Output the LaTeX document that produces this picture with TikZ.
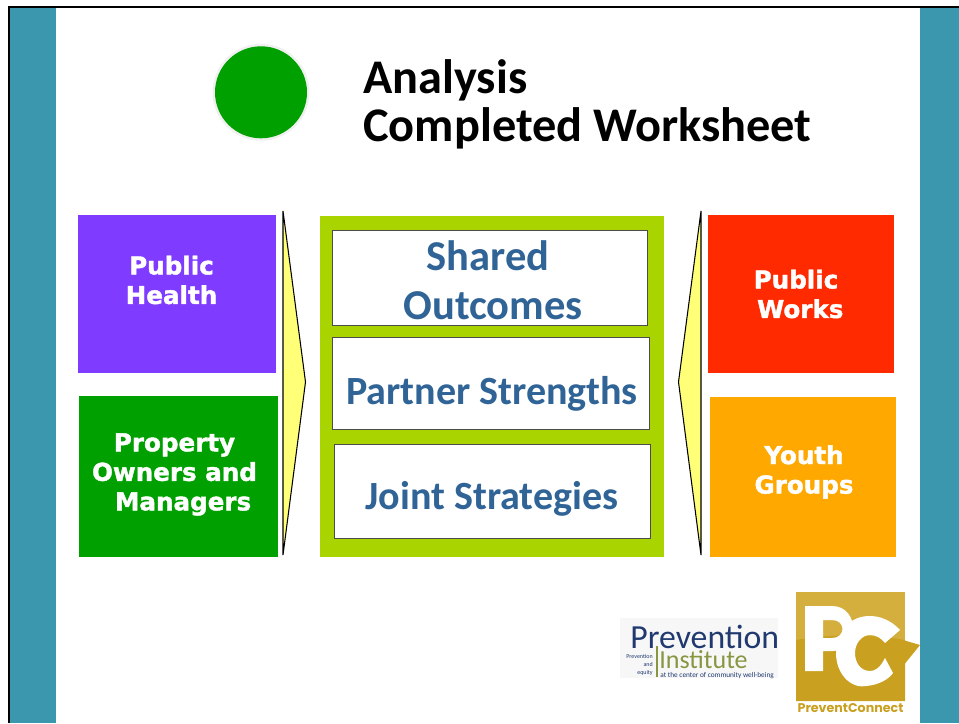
\documentclass[tikz,border=0pt]{standalone}
\usepackage{fontspec}
\setmainfont{Carlito}
\newfontfamily\heavyfont[BoldFont={DejaVu Sans Bold},BoldFeatures={FakeBold=1.6}]{DejaVu Sans}
\newfontfamily\logofont{Poppins}
\usetikzlibrary{calc}
\definecolor{myteal}{RGB}{59, 151, 173}
\definecolor{mypurple}{RGB}{127, 59, 255}
\definecolor{mygreen}{RGB}{0, 160, 0}
\definecolor{myred}{RGB}{255, 42, 0}
\definecolor{myorange}{RGB}{255, 168, 0}
\definecolor{mylime}{RGB}{170, 212, 0}
\definecolor{myblue}{RGB}{48, 100, 150}
\definecolor{myyellow}{RGB}{255, 255, 120}
\definecolor{mygold}{RGB}{201, 160, 32}
\definecolor{mygoldb}{RGB}{213, 175, 62}
\definecolor{mynavy}{RGB}{32, 58, 112}
\definecolor{myolive}{RGB}{136, 150, 66}

\begin{document}
\begin{tikzpicture}[x=0.02cm,y=-0.02cm]

\tikzstyle{partner} = [text=white, inner sep=0, outer sep=0, align=center,
font=\heavyfont\bfseries\fontsize{14}{16.8}\selectfont]
\tikzstyle{white-b} = [draw=black!70, line width=0.45, fill=white, inner sep=0]
\tikzstyle{middle-t} = [text=myblue, inner sep=0, font=\bfseries\fontsize{22.8}{28.5}\selectfont]
\tikzstyle{middle-big} = [text=myblue, inner sep=0, font=\bfseries\fontsize{24.2}{28.5}\selectfont]
\tikzstyle{chevron} = [draw=black, line width=0.6, fill=myyellow]

\useasboundingbox (0,0) rectangle (959,723);

% frame and side bands
\fill[myteal] (9,7) rectangle (56,723);
\fill[myteal] (920,7) rectangle (959,723);
\draw[line width=1.2, black] (9,723) -- (9,7) -- (959,7);

% title
\fill[black!6!white] (261,92.3) circle (48.5);
\fill[mygreen] (261,92.3) circle (46);
\node[anchor=north west, inner sep=0] (title) at (363,59) {\fontsize{27.5}{27.3}\selectfont\bfseries\begin{tabular}{@{}l@{}} Analysis\\ Completed Worksheet\end{tabular}};

% partner blocks
\fill[mypurple] (78,215) rectangle (276,373);
\fill[mygreen] (79,396) rectangle (278,557);
\fill[myred] (708,215) rectangle (894,373);
\fill[myorange] (710,397) rectangle (896,557);
\node[partner] (health) at (171.5,280) {Public\\Health};
\node[partner] (owners) at (174.5,474.5) {Property\\Owners and\\~~Managers};
\node[partner] (works) at (796,294) {Public\\~Works};
\node[partner] (youth) at (804,472) {Youth\\Groups};

% chevrons
\draw[chevron] (283,211) -- (305.5,382) -- (283,555) -- cycle;
\draw[chevron] (701,211) -- (678.5,382) -- (701,555) -- cycle;

% middle panel
\fill[mylime] (320,216) rectangle (664,557);
\draw[white-b] (332,230) rectangle (647,325);
\draw[white-b] (332,337) rectangle (649,429);
\draw[white-b] (334,444) rectangle (650,538);
\node[middle-big] (shared) at (488,256) {Shared};
\node[middle-big] (outcomes) at (493,306) {Outcomes};
\node[middle-t] (strengths) at (492,394) {Partner Strengths};
\node[middle-t] (joint) at (492,498.5) {Joint Strategies};

% first logo
\fill[black!3!white] (620,618) rectangle (778,678);
\node[anchor=base west, inner sep=0, text=mynavy] (prevention) at (630,648) {\fontsize{19.2}{20}\selectfont Prevention};
\node[anchor=base west, inner sep=0, text=myolive] (institute) at (659,668) {\fontsize{14.8}{15}\selectfont Institute};
\draw[myolive, line width=0.6] (657,646) -- (657,677);
\node[anchor=north east, inner sep=0, text=mynavy] (prevtiny) at (653,652) {\fontsize{3.4}{4.7}\selectfont\begin{tabular}{@{}r@{}} Prevention\\ and\\ equity\end{tabular}};
\node[anchor=base west, inner sep=0, text=mynavy] (wellbeing) at (660,677) {\fontsize{4.15}{4}\selectfont at the center of community well-being};

% second logo
\fill[mygoldb] (796,592) rectangle (905,640);
\fill[mygold] (796,701) -- (796,640) .. controls (830,634) and (870,634) .. (905,640) -- (905,701) -- cycle;
\fill[mygold] (903,640) -- (920,645) -- (903,666) -- cycle;
\fill[white, even odd rule] (805,606) -- (832,606) .. controls (860,606) and (860,651) .. (833,651) -- (823,651) -- (823,671) -- (805,671) -- cycle
  (823,620) -- (832,620) .. controls (846,620) and (846,638) .. (832,638) -- (823,638) -- cycle;
\fill[white] (900,630) .. controls (882,610) and (852,612) .. (842,632) .. controls (826,660) and (845,690) .. (866,686) .. controls (878,685) and (888,680) .. (893,673) -- (885,658) .. controls (880,668) and (875,671) .. (870,671) .. controls (860,671) and (855,662) .. (855,653) .. controls (855,643) and (862,635) .. (870,635) .. controls (876,635) and (881,638) .. (885,643) -- cycle;
\node[anchor=base, inner sep=0, text=mygold] (connect) at (850.5,712) {\logofont\bfseries\fontsize{7.2}{8}\selectfont PreventConnect};

\end{tikzpicture}
\end{document}
